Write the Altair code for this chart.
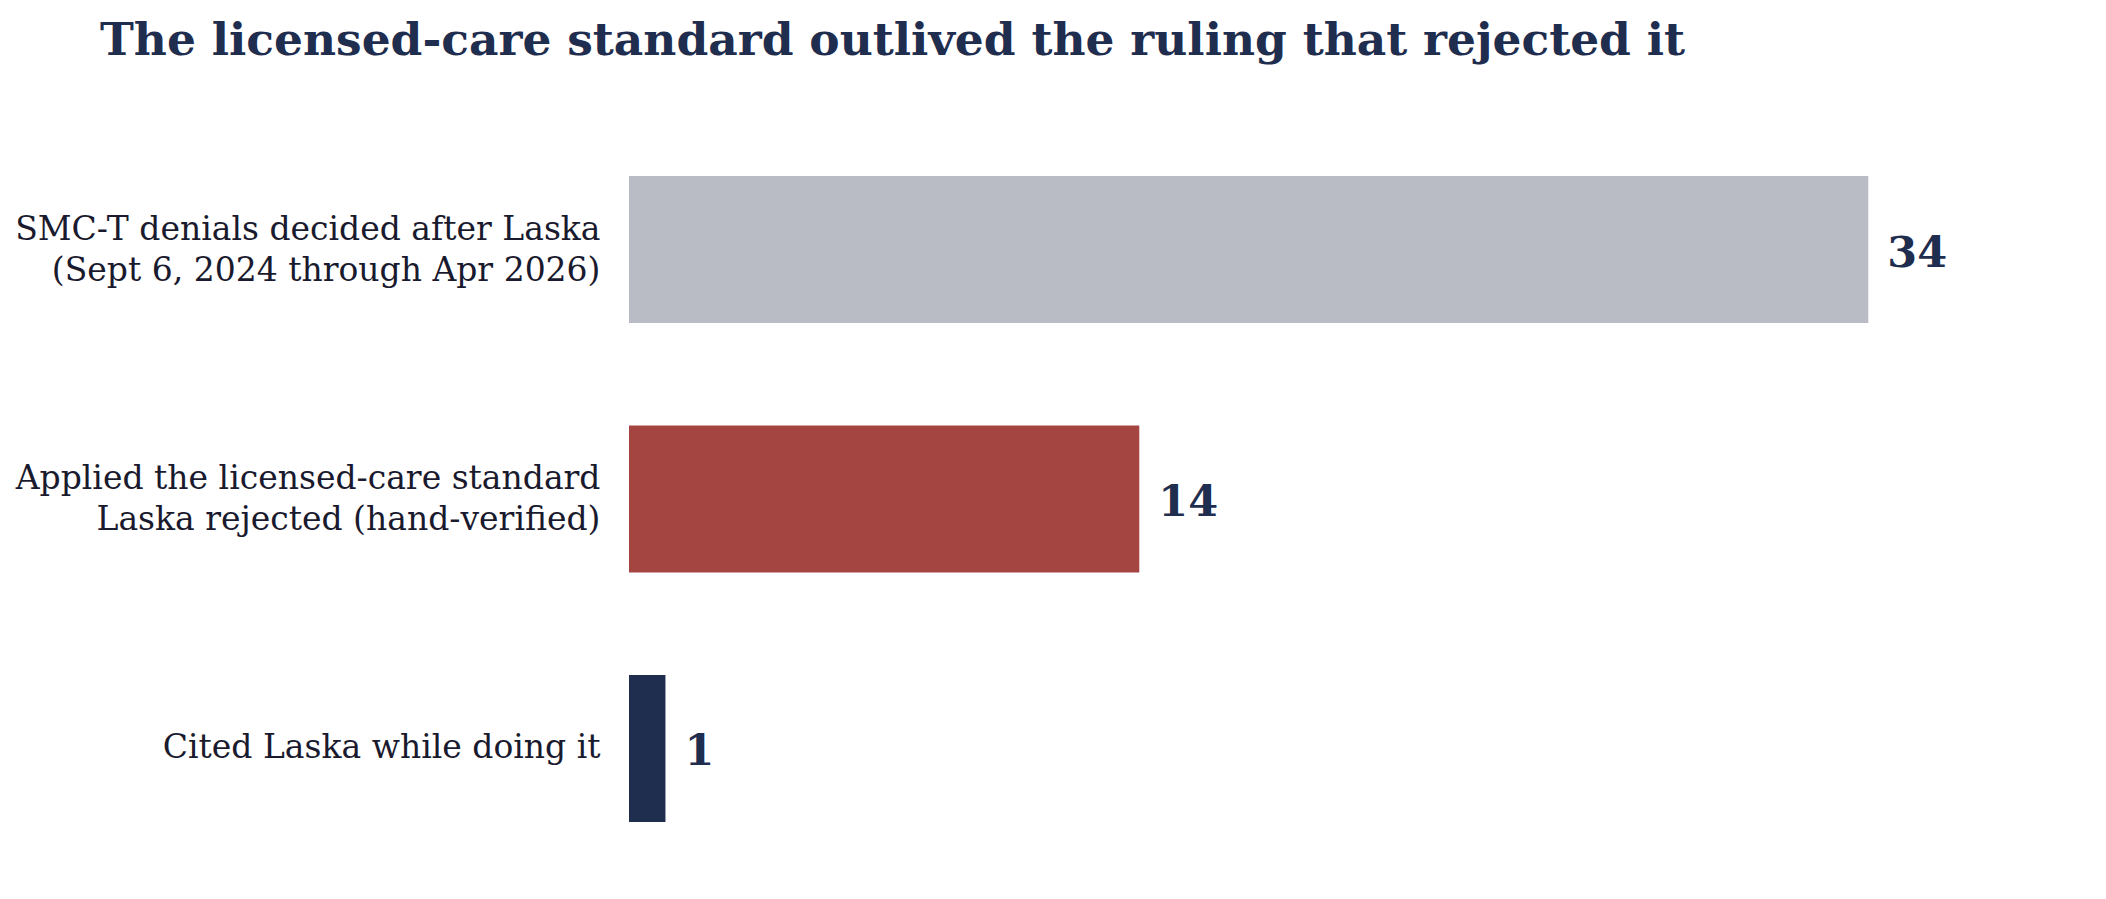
import altair as alt
import pandas as pd

categories = [
    "SMC-T denials decided after Laska|(Sept 6, 2024 through Apr 2026)",
    "Applied the licensed-care standard|Laska rejected (hand-verified)",
    "Cited Laska while doing it",
]
values = [34, 14, 1]
colors = ["#b9bcc5", "#a54542", "#1f2d4e"]

df = pd.DataFrame({"category": categories, "value": values, "color": colors})

FONT = "DejaVu Serif"

base = alt.Chart(df).encode(
    y=alt.Y(
        "category:N",
        sort=categories,
        title=None,
        scale=alt.Scale(paddingInner=0.41, paddingOuter=0.2),
        axis=alt.Axis(
            domain=False,
            ticks=False,
            grid=False,
            labelPadding=29,
            labelFontSize=33,
            labelFont=FONT,
            labelColor="#1a1a2e",
            labelLimit=0,
            labelLineHeight=41,
            labelExpr="split(datum.label, '|')",
            labelOffset={
                "condition": {"test": "indexof(datum.value, '|') >= 0", "value": -20},
                "value": 0,
            },
        ),
    ),
)

bars = base.mark_bar().encode(
    x=alt.X("value:Q", scale=alt.Scale(domain=[0, 40]), axis=None),
    color=alt.Color("color:N", scale=None, legend=None),
)

text = base.mark_text(
    align="left", baseline="middle", dx=19, dy=4, font=FONT, fontWeight="bold",
    fontSize=43, color="#1f2d4e",
).encode(
    x=alt.X("value:Q"),
    text=alt.Text("value:Q"),
)

chart = (
    alt.layer(bars, text)
    .properties(
        width=1458,
        height=746,
        autosize=alt.AutoSizeParams(type="none"),
        padding={"left": 621, "top": 118, "right": 10, "bottom": 10},
        title=alt.TitleParams(
            "The licensed-care standard outlived the ruling that rejected it",
            anchor="start",
            frame="group",
            dx=-529,
            font=FONT,
            fontSize=45.5,
            fontWeight="bold",
            color="#1f2d4e",
            offset=62,
        ),
    )
    .configure(background="white", view=alt.ViewConfig(strokeWidth=0, stroke="transparent"))
)

chart.save("out.html", embed_options={"renderer": "svg", "actions": False})
